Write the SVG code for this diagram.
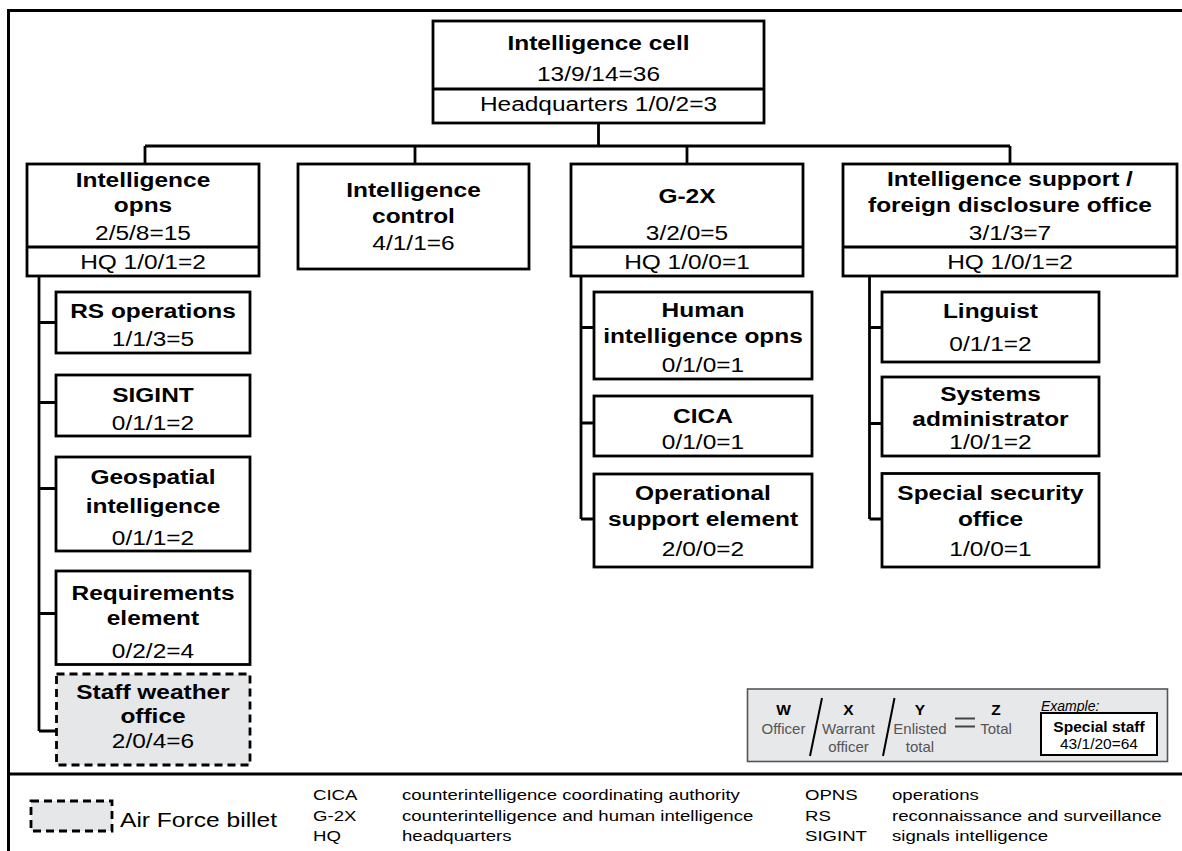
<svg xmlns="http://www.w3.org/2000/svg" width="1182" height="851" viewBox="0 0 1182 851">
  <style>
    .box { fill: #ffffff; stroke: #000000; stroke-width: 2.8; }
    .af { fill: #e6e7e9; stroke: #000000; stroke-width: 2.8; stroke-dasharray: 8 5; }
    .wire { fill: none; stroke: #000000; stroke-width: 2.8; }
    .frame { fill: none; stroke: #000000; stroke-width: 3; }
    text { font-family: "Liberation Sans", Arial, sans-serif; fill: #000000; }
    .b, .r { font-size: 21px; text-anchor: middle; transform-box: fill-box; transform-origin: center; transform: scaleX(1.165); }
    .b { font-weight: bold; }
    .g { font-size: 15.5px; transform-box: fill-box; transform-origin: 0% 50%; transform: scaleX(1.2); }
    .gl { font-size: 20.5px; transform-box: fill-box; transform-origin: 0% 50%; transform: scaleX(1.2); }
    .k { font-size: 15.5px; font-weight: bold; text-anchor: middle; }
    .kl { font-size: 15px; fill: #555555; text-anchor: middle; }
    .key { fill: #e7e8ea; stroke: #555555; stroke-width: 1.6; }
    .ex { fill: #ffffff; stroke: #000000; stroke-width: 2; }
  </style>

  <!-- page frame and footer divider -->
  <path class="frame" d="M1182,10.5 H8.5 V851"/>
  <line class="frame" x1="8.5" y1="774" x2="1182" y2="774"/>

  <!-- tree connectors -->
  <g id="connectors">
    <path class="wire" d="M598.5,123 V146 M145,146 H1010 M145,146 V164 M415,146 V164 M687,146 V164 M1010,146 V164"/>
    <path class="wire" d="M39,276 V731 M39,322.5 H56 M39,402.5 H56 M39,488.5 H56 M39,613.5 H56 M39,731 H56"/>
    <path class="wire" d="M581,276 V519 M581,327.5 H594 M581,423 H594 M581,519 H594"/>
    <path class="wire" d="M869.5,276 V519 M869.5,327.5 H882 M869.5,423.5 H882 M869.5,519 H882"/>
  </g>

  <g id="intelligence-cell">
    <rect class="box" x="433" y="21" width="331" height="102"/>
    <line class="box" x1="433" y1="89" x2="764" y2="89"/>
    <text class="b" x="598.5" y="50">Intelligence cell</text>
    <text class="r" x="598.5" y="81.5">13/9/14=36</text>
    <text class="r" x="598.5" y="111">Headquarters 1/0/2=3</text>
  </g>

  <g id="intelligence-opns">
    <rect class="box" x="27" y="164" width="232" height="112"/>
    <line class="box" x1="27" y1="247" x2="259" y2="247"/>
    <text class="b" x="143" y="187">Intelligence</text>
    <text class="b" x="143" y="212">opns</text>
    <text class="r" x="143" y="240">2/5/8=15</text>
    <text class="r" x="143" y="269">HQ 1/0/1=2</text>
  </g>

  <g id="intelligence-control">
    <rect class="box" x="298" y="164" width="231" height="105"/>
    <text class="b" x="413.5" y="197">Intelligence</text>
    <text class="b" x="413.5" y="223">control</text>
    <text class="r" x="413.5" y="250">4/1/1=6</text>
  </g>

  <g id="g-2x">
    <rect class="box" x="571" y="164" width="232" height="112"/>
    <line class="box" x1="571" y1="247" x2="803" y2="247"/>
    <text class="b" x="687" y="203">G-2X</text>
    <text class="r" x="687" y="240">3/2/0=5</text>
    <text class="r" x="687" y="269">HQ 1/0/0=1</text>
  </g>

  <g id="support-disclosure">
    <rect class="box" x="843" y="164" width="334" height="112"/>
    <line class="box" x1="843" y1="247" x2="1177" y2="247"/>
    <text class="b" x="1010" y="186.5">Intelligence support /</text>
    <text class="b" x="1010" y="212">foreign disclosure office</text>
    <text class="r" x="1010" y="240">3/1/3=7</text>
    <text class="r" x="1010" y="269">HQ 1/0/1=2</text>
  </g>

  <!-- intelligence opns sections -->
  <g id="rs-operations">
    <rect class="box" x="56" y="292" width="194" height="61"/>
    <text class="b" x="153" y="318.5">RS operations</text>
    <text class="r" x="153" y="346">1/1/3=5</text>
  </g>
  <g id="sigint">
    <rect class="box" x="56" y="375" width="194" height="61"/>
    <text class="b" x="153" y="402.5">SIGINT</text>
    <text class="r" x="153" y="430">0/1/1=2</text>
  </g>
  <g id="geospatial">
    <rect class="box" x="56" y="457" width="194" height="94"/>
    <text class="b" x="153" y="484">Geospatial</text>
    <text class="b" x="153" y="513.5">intelligence</text>
    <text class="r" x="153" y="545">0/1/1=2</text>
  </g>
  <g id="requirements">
    <rect class="box" x="56" y="571" width="194" height="93.5"/>
    <text class="b" x="153" y="600">Requirements</text>
    <text class="b" x="153" y="625">element</text>
    <text class="r" x="153" y="658.5">0/2/2=4</text>
  </g>
  <g id="staff-weather">
    <rect class="af" x="56.5" y="674" width="193.5" height="91"/>
    <text class="b" x="153" y="699">Staff weather</text>
    <text class="b" x="153" y="723.5">office</text>
    <text class="r" x="153" y="748.5">2/0/4=6</text>
  </g>

  <!-- G-2X sections -->
  <g id="humint-opns">
    <rect class="box" x="594" y="292" width="218" height="87"/>
    <text class="b" x="703" y="317.5">Human</text>
    <text class="b" x="703" y="343.5">intelligence opns</text>
    <text class="r" x="703" y="372">0/1/0=1</text>
  </g>
  <g id="cica">
    <rect class="box" x="594" y="396" width="218" height="60"/>
    <text class="b" x="703" y="423">CICA</text>
    <text class="r" x="703" y="449">0/1/0=1</text>
  </g>
  <g id="operational-support">
    <rect class="box" x="594" y="474" width="218" height="93"/>
    <text class="b" x="703" y="500">Operational</text>
    <text class="b" x="703" y="526">support element</text>
    <text class="r" x="703" y="556">2/0/0=2</text>
  </g>

  <!-- support / disclosure sections -->
  <g id="linguist">
    <rect class="box" x="882" y="292" width="217" height="70"/>
    <text class="b" x="990.5" y="318.5">Linguist</text>
    <text class="r" x="990.5" y="351">0/1/1=2</text>
  </g>
  <g id="sysadmin">
    <rect class="box" x="882" y="377" width="217" height="79"/>
    <text class="b" x="990.5" y="401">Systems</text>
    <text class="b" x="990.5" y="426">administrator</text>
    <text class="r" x="990.5" y="449.5">1/0/1=2</text>
  </g>
  <g id="special-security">
    <rect class="box" x="882" y="473.5" width="217" height="93.5"/>
    <text class="b" x="990.5" y="500.5">Special security</text>
    <text class="b" x="990.5" y="526">office</text>
    <text class="r" x="990.5" y="556">1/0/0=1</text>
  </g>

  <!-- strength key -->
  <g id="strength-key">
    <rect class="key" x="747.5" y="689" width="420" height="72.5"/>
    <text class="k" x="783.5" y="715">W</text>
    <text class="kl" x="783.5" y="733.5">Officer</text>
    <line x1="822" y1="698" x2="810" y2="756" stroke="#000" stroke-width="2"/>
    <text class="k" x="848.5" y="715">X</text>
    <text class="kl" x="848.5" y="733.5">Warrant</text>
    <text class="kl" x="848.5" y="752">officer</text>
    <line x1="894.5" y1="698" x2="883" y2="756" stroke="#000" stroke-width="2"/>
    <text class="k" x="920" y="715">Y</text>
    <text class="kl" x="920" y="733.5">Enlisted</text>
    <text class="kl" x="920" y="752">total</text>
    <path d="M955,718.5 H975 M955,726.5 H975" stroke="#444" stroke-width="2"/>
    <text class="k" x="996" y="715">Z</text>
    <text class="kl" x="996" y="733.5">Total</text>
    <text x="1041" y="710.5" font-size="14" font-style="italic">Example:</text>
    <rect class="ex" x="1041" y="713" width="116" height="42"/>
    <text class="k" x="1099" y="731.5" font-size="15.5">Special staff</text>
    <text x="1099" y="748.5" font-size="15.5" text-anchor="middle">43/1/20=64</text>
  </g>

  <!-- footer: billet key and abbreviations -->
  <g id="billet-key">
    <rect class="af" x="31" y="801" width="81" height="30"/>
    <text class="gl" x="120" y="827.5">Air Force billet</text>
  </g>
  <g id="abbreviations">
    <text class="g" x="313" y="800.5">CICA</text>
    <text class="g" x="313" y="821">G-2X</text>
    <text class="g" x="313" y="841.5">HQ</text>
    <text class="g" x="402" y="800.5">counterintelligence coordinating authority</text>
    <text class="g" x="402" y="821">counterintelligence and human intelligence</text>
    <text class="g" x="402" y="841.5">headquarters</text>
    <text class="g" x="805" y="800.5">OPNS</text>
    <text class="g" x="805" y="821">RS</text>
    <text class="g" x="805" y="841.5">SIGINT</text>
    <text class="g" x="892" y="800.5">operations</text>
    <text class="g" x="892" y="821">reconnaissance and surveillance</text>
    <text class="g" x="892" y="841.5">signals intelligence</text>
  </g>
</svg>
